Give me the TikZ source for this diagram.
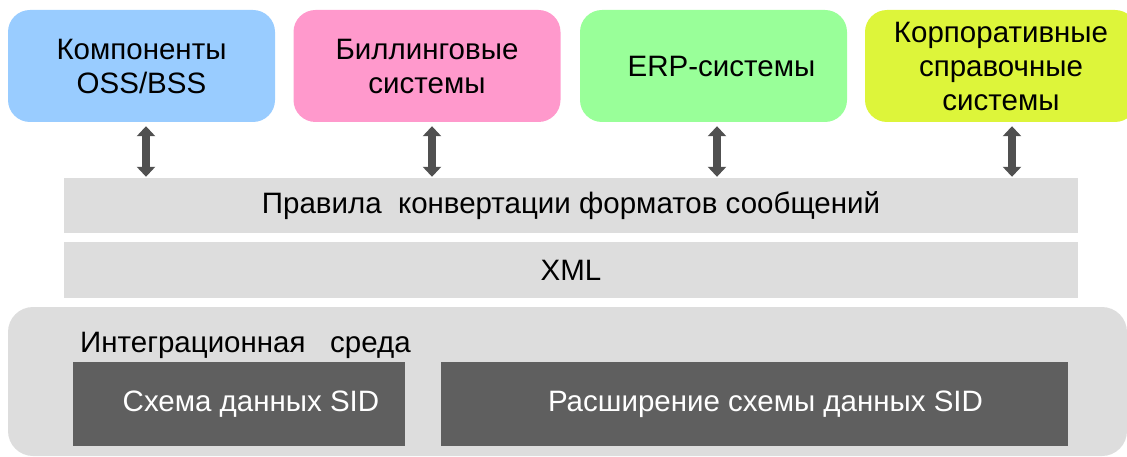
\documentclass[tikz,border=0pt]{standalone}
\usepackage{fontspec}
\setmainfont{Liberation Sans}
\usetikzlibrary{arrows.meta,positioning}

\definecolor{ossblue}{HTML}{99CCFF}
\definecolor{billpink}{HTML}{FF99CC}
\definecolor{erpgreen}{HTML}{99FF99}
\definecolor{corplime}{HTML}{DDF53A}
\definecolor{bargray}{HTML}{DDDDDD}
\definecolor{sidgray}{HTML}{5F5F5F}
\definecolor{arrgray}{HTML}{505050}
\newcommand{\bigtxt}{\fontsize{29.5}{34}\selectfont}

\begin{document}
\begin{tikzpicture}[x=1pt, y=-1pt,
    sys/.style={rounded corners=22pt, minimum width=267pt, minimum height=112pt, align=center, font=\bigtxt, inner sep=0pt},
    bar/.style={fill=bargray, minimum width=1014pt, minimum height=55pt, font=\bigtxt, inner sep=0pt},
    sid/.style={fill=sidgray, minimum height=84pt, text=white, font=\bigtxt, inner sep=0pt},
    dblarr/.style={{Triangle[width=18pt,length=10pt]}-{Triangle[width=18pt,length=10pt]}, line width=8pt, draw=arrgray, shorten <=4pt, shorten >=1pt}
]
\useasboundingbox (0,0) rectangle (1127,457);

% systems on top
\node[sys, fill=ossblue] (oss) at (141.5,66) {Компоненты\\OSS/BSS};
\node[sys, fill=billpink] (bill) at (427,66) {Биллинговые\\системы};
\node[sys, fill=erpgreen] (erp) at (713.5,66) {\hspace*{16pt}ERP-системы};
\node[sys, fill=corplime, minimum width=272pt] (corp) at (1001,66) {Корпоративные\\справочные\\системы};

% layers
\node[bar] (rules) at (571,205.5) {Правила\ \ конвертации форматов сообщений};
\node[bar, minimum height=56pt] (xml) at (571,270) {XML};

% integration environment
\node[fill=bargray, rounded corners=25pt, minimum width=1119pt, minimum height=149pt, inner sep=0pt] (env) at (567.5,381.5) {};
\node[anchor=base west, font=\bigtxt, inner sep=0pt] (envlbl) at (80,352) {Интеграционная\ \ \ среда};
\node[sid, minimum width=332pt] (sid) at (239,404) {\hspace*{24pt}Схема данных SID};
\node[sid, minimum width=627pt] (sidext) at (754.5,404) {\hspace*{22pt}Расширение схемы данных SID};

% links
\draw[dblarr] ([xshift=4.5pt]oss.south) -- ([xshift=4.5pt]oss.south |- rules.north);
\draw[dblarr] ([xshift=5pt]bill.south) -- ([xshift=5pt]bill.south |- rules.north);
\draw[dblarr] ([xshift=3.5pt]erp.south) -- ([xshift=3.5pt]erp.south |- rules.north);
\draw[dblarr] ([xshift=11pt]corp.south) -- ([xshift=11pt]corp.south |- rules.north);
\end{tikzpicture}
\end{document}
